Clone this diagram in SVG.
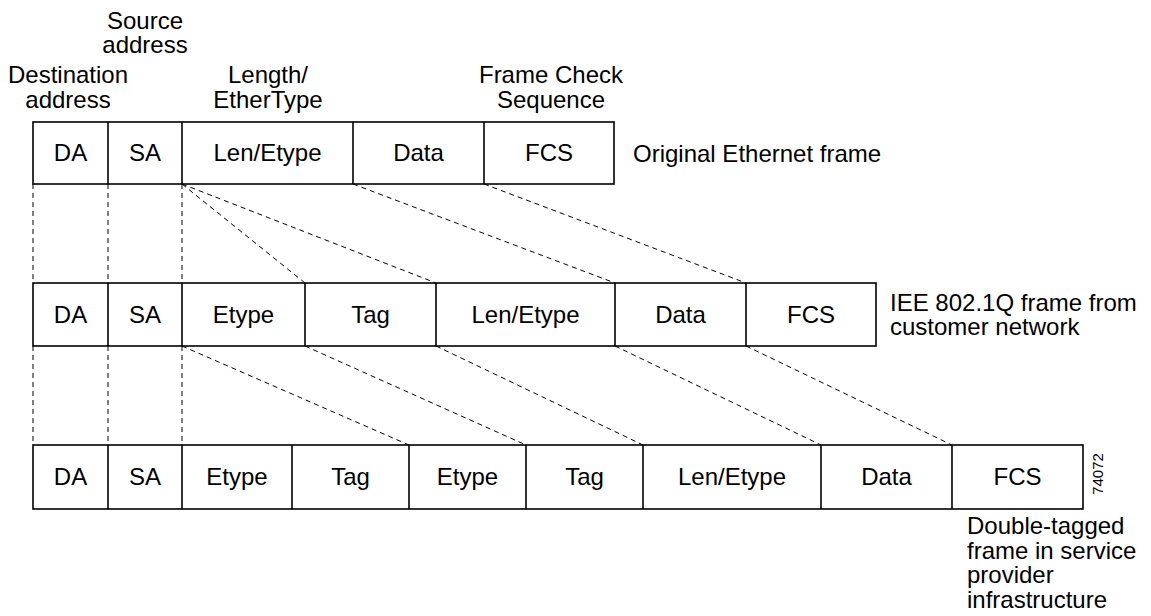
<svg xmlns="http://www.w3.org/2000/svg" width="1151" height="616" viewBox="0 0 1151 616">
<style>
text{font-family:"Liberation Sans",Arial,sans-serif;font-size:24px;fill:#000}
.c{text-anchor:middle}
.box{fill:#fff;stroke:#000;stroke-width:1.6}
.div{stroke:#000;stroke-width:1.6}
.dash{stroke:#000;stroke-width:1;stroke-dasharray:5,4;fill:none}
.small{font-size:15px}
</style>
<rect width="1151" height="616" fill="#fff"/>
<g id="connectors">
<line class="dash" x1="33" y1="184" x2="33" y2="283"/>
<line class="dash" x1="108" y1="184" x2="108" y2="283"/>
<line class="dash" x1="182" y1="184" x2="182" y2="283"/>
<line class="dash" x1="182" y1="184" x2="305" y2="283"/>
<line class="dash" x1="182" y1="184" x2="436" y2="283"/>
<line class="dash" x1="353" y1="184" x2="615" y2="283"/>
<line class="dash" x1="484" y1="184" x2="746" y2="283"/>
<line class="dash" x1="33" y1="346" x2="33" y2="445"/>
<line class="dash" x1="108" y1="346" x2="108" y2="445"/>
<line class="dash" x1="182" y1="346" x2="182" y2="445"/>
<line class="dash" x1="182" y1="346" x2="409" y2="445"/>
<line class="dash" x1="305" y1="346" x2="526" y2="445"/>
<line class="dash" x1="436" y1="346" x2="643" y2="445"/>
<line class="dash" x1="615" y1="346" x2="821" y2="445"/>
<line class="dash" x1="746" y1="346" x2="952" y2="445"/>
</g>
<g id="labels-top">
<text class="c" x="145" y="29">Source</text>
<text class="c" x="145" y="53">address</text>
<text class="c" x="68" y="83">Destination</text>
<text class="c" x="68" y="108">address</text>
<text class="c" x="268" y="83">Length/</text>
<text class="c" x="268" y="108">EtherType</text>
<text class="c" x="551" y="83">Frame Check</text>
<text class="c" x="551" y="108">Sequence</text>
</g>
<g id="frame-original">
<rect class="box" x="33" y="122" width="581" height="62"/>
<line class="div" x1="108" y1="122" x2="108" y2="184"/>
<line class="div" x1="182" y1="122" x2="182" y2="184"/>
<line class="div" x1="353" y1="122" x2="353" y2="184"/>
<line class="div" x1="484" y1="122" x2="484" y2="184"/>
<text class="c" x="70.5" y="161">DA</text>
<text class="c" x="145" y="161">SA</text>
<text class="c" x="267.5" y="161">Len/Etype</text>
<text class="c" x="418.5" y="161">Data</text>
<text class="c" x="549" y="161">FCS</text>
<text x="633" y="162">Original Ethernet frame</text>
</g>
<g id="frame-8021q">
<rect class="box" x="33" y="283" width="843" height="63"/>
<line class="div" x1="108" y1="283" x2="108" y2="346"/>
<line class="div" x1="182" y1="283" x2="182" y2="346"/>
<line class="div" x1="305" y1="283" x2="305" y2="346"/>
<line class="div" x1="436" y1="283" x2="436" y2="346"/>
<line class="div" x1="615" y1="283" x2="615" y2="346"/>
<line class="div" x1="746" y1="283" x2="746" y2="346"/>
<text class="c" x="70.5" y="323">DA</text>
<text class="c" x="145" y="323">SA</text>
<text class="c" x="243.5" y="323">Etype</text>
<text class="c" x="370.5" y="323">Tag</text>
<text class="c" x="525.5" y="323">Len/Etype</text>
<text class="c" x="680.5" y="323">Data</text>
<text class="c" x="811" y="323">FCS</text>
<text x="890" y="311">IEE 802.1Q frame from</text>
<text x="890" y="335">customer network</text>
</g>
<g id="frame-double-tagged">
<rect class="box" x="33" y="445" width="1050" height="64"/>
<line class="div" x1="108" y1="445" x2="108" y2="509"/>
<line class="div" x1="182" y1="445" x2="182" y2="509"/>
<line class="div" x1="292" y1="445" x2="292" y2="509"/>
<line class="div" x1="409" y1="445" x2="409" y2="509"/>
<line class="div" x1="526" y1="445" x2="526" y2="509"/>
<line class="div" x1="643" y1="445" x2="643" y2="509"/>
<line class="div" x1="821" y1="445" x2="821" y2="509"/>
<line class="div" x1="952" y1="445" x2="952" y2="509"/>
<text class="c" x="70.5" y="485">DA</text>
<text class="c" x="145" y="485">SA</text>
<text class="c" x="237" y="485">Etype</text>
<text class="c" x="350.5" y="485">Tag</text>
<text class="c" x="467.5" y="485">Etype</text>
<text class="c" x="584.5" y="485">Tag</text>
<text class="c" x="732" y="485">Len/Etype</text>
<text class="c" x="886.5" y="485">Data</text>
<text class="c" x="1017.5" y="485">FCS</text>
<text x="967" y="534">Double-tagged</text>
<text x="967" y="559">frame in service</text>
<text x="967" y="583">provider</text>
<text x="967" y="608">infrastructure</text>
</g>
<text class="c small" transform="translate(1103,474) rotate(-90)">74072</text>
</svg>
